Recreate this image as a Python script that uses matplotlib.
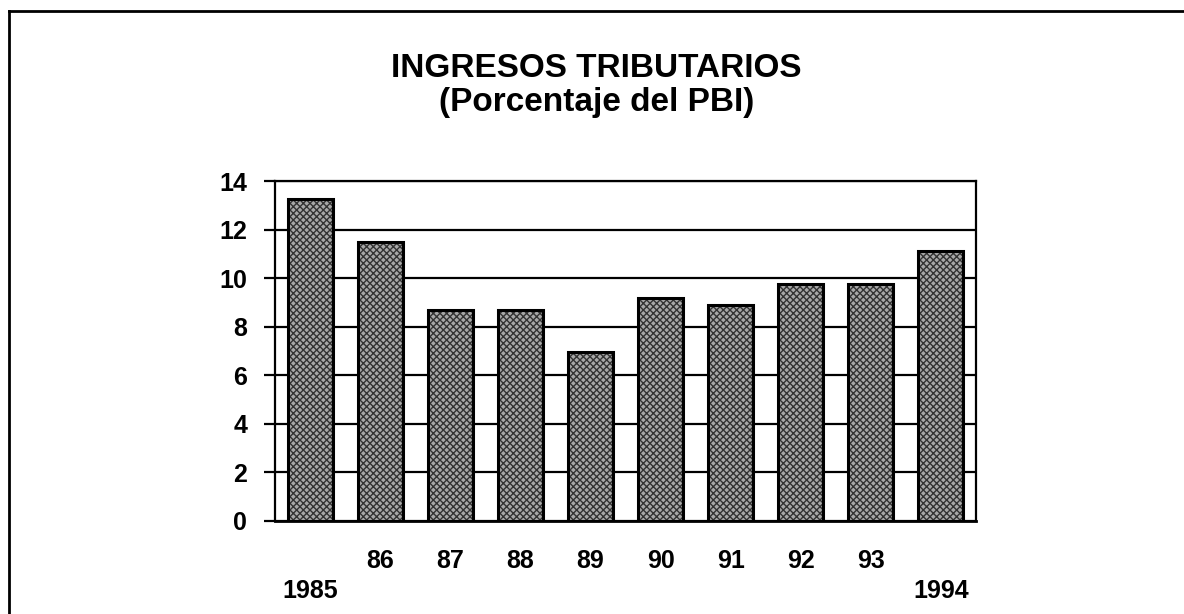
import matplotlib.pyplot as plt
from matplotlib.lines import Line2D

plt.rcParams['font.family'] = ['Liberation Sans', 'DejaVu Sans']
plt.rcParams['hatch.linewidth'] = 1.0

# datos: ingresos tributarios, % del PBI
years = ['1985', '86', '87', '88', '89', '90', '91', '92', '93', '1994']
values = [13.25, 11.5, 8.7, 8.7, 6.95, 9.2, 8.9, 9.75, 9.75, 11.1]
yticks = [0, 2, 4, 6, 8, 10, 12, 14]

fig = plt.figure(figsize=(11.84, 6.14), dpi=100)
ax = fig.add_axes([0.2323, 0.1515, 0.5920, 0.5537])

x = list(range(len(years)))
# relleno punteado gris
ax.bar(x, values, width=0.64, color='#a8a8a8', edgecolor='#333333',
       hatch='xxxxx', linewidth=0, zorder=3)
# borde negro
ax.bar(x, values, width=0.64, fill=False, edgecolor='black',
       linewidth=2.2, zorder=4)

ax.set_xlim(-0.5, len(years) - 0.5)
ax.set_ylim(0, 14)
ax.set_yticks(yticks)
ax.yaxis.grid(True, color='black', linewidth=1.6, zorder=1)
ax.set_axisbelow(True)

# etiquetas alternadas: extremos abajo
labels = []
for i, y in enumerate(years):
    if i == 0 or i == len(years) - 1:
        labels.append('\n' + y)
    else:
        labels.append(y + '\n')
ax.set_xticks(x)
ax.set_xticklabels(labels, fontsize=18, fontweight='bold', linespacing=1.35)
ax.tick_params(axis='x', length=0, pad=20)
ax.tick_params(axis='y', length=8, width=1.6, pad=12, direction='out',
               labelsize=18)
for lab in ax.get_yticklabels():
    lab.set_fontweight('bold')

for side in ['left', 'right', 'top', 'bottom']:
    ax.spines[side].set_linewidth(1.6)
ax.spines['bottom'].set_linewidth(2.0)

fig.text(0.504, 0.889, 'INGRESOS TRIBUTARIOS', ha='center', va='center',
         fontsize=24, fontweight='bold')
fig.text(0.504, 0.833, '(Porcentaje del PBI)', ha='center', va='center',
         fontsize=24, fontweight='bold')

# marco de la página
fig.add_artist(Line2D([0.0076, 1.0], [0.982, 0.982], color='black', linewidth=2))
fig.add_artist(Line2D([0.0076, 0.0076], [0.0, 0.982], color='black', linewidth=2))

fig.savefig('out.png', dpi=100)
